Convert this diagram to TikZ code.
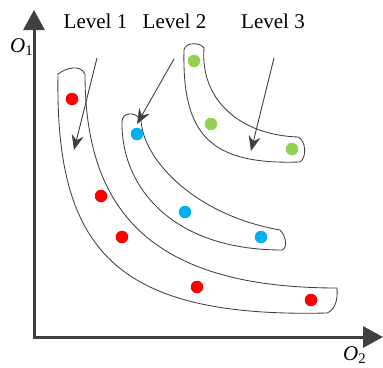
\documentclass[tikz,border=0pt]{standalone}
\usepackage{fontspec}
\setmainfont{Liberation Serif}
\usepackage{xcolor}
\usetikzlibrary{arrows.meta}
\definecolor{axisgray}{RGB}{64,64,64}
\definecolor{ptred}{RGB}{255,0,0}
\definecolor{ptblue}{RGB}{0,176,240}
\definecolor{ptgreen}{RGB}{146,208,80}

\begin{document}
\begin{tikzpicture}[x=1pt, y=-1pt, every node/.style={font=\fontsize{21}{24}\selectfont},
      dot/.style={circle, inner sep=0pt, minimum size=12.5pt},
      band/.style={draw=axisgray, line width=0.85pt},
      axis/.style={{Triangle[length=20pt,width=21pt]}-{Triangle[length=20pt,width=21pt]}, line width=3pt, axisgray},
      arr/.style={-{Stealth[length=15pt,width=12pt,inset=5pt]}, line width=0.9pt, axisgray}]
    \useasboundingbox (0,0) rectangle (383,367);
    \draw[axis] (34,10) |- (383,337);
    \node[anchor=base west, inner sep=0pt] (o1) at (10,52) {\textit{O}\textsubscript{1}};
    \node[anchor=base west, inner sep=0pt] (o2) at (343,360) {\textit{O}\textsubscript{2}};
    \draw[band] (58,74) .. controls (66,68) and (80,64) .. (85,74)
      .. controls (85,210) and (150,288) .. (337,288)
      .. controls (338,300) and (335,310) .. (327,313)
      .. controls (115,318) and (55,250) .. (58,74) -- cycle;
    \draw[band] (122,122) .. controls (122,112) and (135,111) .. (141,120)
      .. controls (143,160) and (195,215) .. (280,230)
      .. controls (286,236) and (288,248) .. (282,250)
      .. controls (170,250) and (121,185) .. (122,122) -- cycle;
    \draw[band] (184,50) .. controls (185,42) and (200,42) .. (204,48)
      .. controls (200,100) and (240,135) .. (298,137)
      .. controls (306,140) and (307,158) .. (300,162)
      .. controls (210,165) and (182,135) .. (184,50) -- cycle;
    \node[dot, fill=ptred] (r1) at (72,99) {};
    \node[dot, fill=ptred] (r2) at (101,196) {};
    \node[dot, fill=ptred] (r3) at (122,237) {};
    \node[dot, fill=ptred] (r4) at (197,287) {};
    \node[dot, fill=ptred] (r5) at (311,300) {};
    \node[dot, fill=ptblue] (b1) at (137,134) {};
    \node[dot, fill=ptblue] (b2) at (185,212) {};
    \node[dot, fill=ptblue] (b3) at (261,237) {};
    \node[dot, fill=ptgreen] (g1) at (194,61) {};
    \node[dot, fill=ptgreen] (g2) at (211,124) {};
    \node[dot, fill=ptgreen] (g3) at (292,149) {};
    \node[anchor=base, inner sep=0pt] (lev1) at (95.5,28) {Level 1};
    \node[anchor=base, inner sep=0pt] (lev2) at (174.5,28) {Level 2};
    \node[anchor=base, inner sep=0pt] (lev3) at (273,28) {Level 3};
    \coordinate (s1) at (97,58);
    \coordinate (t1) at (74,150);
    \coordinate (s2) at (174,59);
    \coordinate (t2) at (137,124);
    \coordinate (s3) at (274,58);
    \coordinate (t3) at (251,151);
    \draw[arr] (s1) -- (t1);
    \draw[arr] (s2) -- (t2);
    \draw[arr] (s3) -- (t3);
\end{tikzpicture}
\end{document}
